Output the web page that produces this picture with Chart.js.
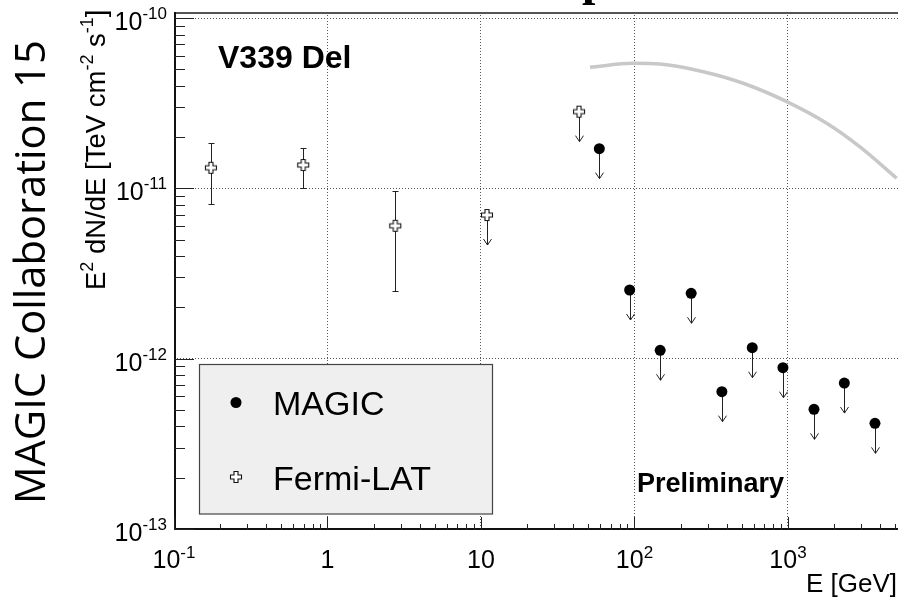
<!DOCTYPE html>
<html>
<head>
<meta charset="utf-8">
<script src="https://cdn.jsdelivr.net/npm/chart.js@4.4.1/dist/chart.umd.min.js"></script>
<style>
html,body{margin:0;padding:0;background:#fff;overflow:hidden}
canvas{display:block}
</style>
</head>
<body>
<canvas id="c" width="898" height="600"></canvas>
<script>
// ---------------- data ----------------
const fermiEnergy   = [0.174, 0.695, 2.765, 10.94, 43.5];          // GeV
const fermiFlux     = [1.32e-11, 1.37e-11, 6.03e-12, 6.97e-12, 2.82e-11];
const fermiErrHigh  = [1.85e-11, 1.73e-11, 9.64e-12, null, null];
const fermiErrLow   = [8.05e-12, 1.00e-11, 2.49e-12, null, null];
const fermiIsUL     = [false, false, false, true, true];

const magicEnergy   = [59, 93, 147, 234, 371, 585, 927, 1477, 2328, 3687];   // GeV
const magicFluxUL   = [1.71e-11, 2.53e-12, 1.12e-12, 2.42e-12, 6.40e-13, 1.16e-12, 8.85e-13, 5.04e-13, 7.19e-13, 4.17e-13];

const modelEnergy   = [51.3, 98.2, 146.6, 280.6, 511, 981, 1787, 2944, 5105];
const modelFlux     = [5.135e-11, 5.42e-11, 5.37e-11, 4.84e-11, 4.14e-11, 3.23e-11, 2.41e-11, 1.75e-11, 1.146e-11];

const xTickValues = [0.1, 1, 10, 100, 1000];
const xTickLabels = [['10','-1'], ['1',''], ['10',''], ['10','2'], ['10','3']];
const yTickValues = [1e-13, 1e-12, 1e-11, 1e-10];
const yTickLabels = [['10','-13'], ['10','-12'], ['10','-11'], ['10','-10']];

const seriesNames = ['MAGIC', 'Fermi-LAT'];
const sourceName  = 'V339 Del';
const stampText   = 'Preliminary';
const sideNote    = 'MAGIC Collaboration 15';
const xTitle      = 'E [GeV]';

// ---------------- styling helpers ----------------
const FONT = '"Liberation Sans", Arial, Helvetica, sans-serif';
const ARROW_LEN = 30;

function makeCross() {
  const c = document.createElement('canvas');
  c.width = 14; c.height = 14;
  const g = c.getContext('2d');
  const cc = 7, h = 5.5, a = 2;
  g.beginPath();
  const pts = [[cc-a,cc-h],[cc+a,cc-h],[cc+a,cc-a],[cc+h,cc-a],[cc+h,cc+a],[cc+a,cc+a],
               [cc+a,cc+h],[cc-a,cc+h],[cc-a,cc+a],[cc-h,cc+a],[cc-h,cc-a],[cc-a,cc-a]];
  pts.forEach((p,i)=> i ? g.lineTo(p[0],p[1]) : g.moveTo(p[0],p[1]));
  g.closePath();
  g.fillStyle = '#fff'; g.fill();
  g.strokeStyle = '#111'; g.lineWidth = 1.1; g.stroke();
  return c;
}
const crossImg = makeCross();

function drawPieces(ctx, pieces, x, y, align) {
  let total = 0;
  pieces.forEach(p => { ctx.font = (p.bold ? 'bold ' : '') + p.size + 'px ' + FONT; p.w = ctx.measureText(p.t).width; total += p.w; });
  let cx = align === 'center' ? x - total / 2 : (align === 'right' ? x - total : x);
  ctx.textAlign = 'left'; ctx.textBaseline = 'alphabetic';
  pieces.forEach(p => {
    ctx.font = (p.bold ? 'bold ' : '') + p.size + 'px ' + FONT;
    ctx.fillText(p.t, cx, y - (p.rise || 0));
    cx += p.w;
  });
  return total;
}

function drawArrow(ctx, px, py) {
  ctx.beginPath();
  ctx.moveTo(px, py); ctx.lineTo(px, py + ARROW_LEN);
  ctx.moveTo(px - 4, py + ARROW_LEN - 6); ctx.lineTo(px, py + ARROW_LEN); ctx.lineTo(px + 4, py + ARROW_LEN - 6);
  ctx.stroke();
}

const rootStyle = {
  id: 'rootStyle',
  beforeDatasetsDraw(chart) {
    const {ctx, scales: {x, y}} = chart;
    ctx.save();
    ctx.strokeStyle = '#222'; ctx.lineWidth = 1;
    fermiEnergy.forEach((e, i) => {
      const px = Math.round(x.getPixelForValue(e)) + 0.5;
      const py = y.getPixelForValue(fermiFlux[i]);
      if (fermiIsUL[i]) { drawArrow(ctx, px, py); return; }
      const yh = Math.round(y.getPixelForValue(fermiErrHigh[i])) + 0.5;
      const yl = Math.round(y.getPixelForValue(fermiErrLow[i])) + 0.5;
      ctx.beginPath();
      ctx.moveTo(px, yh); ctx.lineTo(px, yl);
      ctx.moveTo(px - 3, yh); ctx.lineTo(px + 3, yh);
      ctx.moveTo(px - 3, yl); ctx.lineTo(px + 3, yl);
      ctx.stroke();
    });
    magicEnergy.forEach((e, i) => {
      const px = Math.round(x.getPixelForValue(e)) + 0.5;
      const py = y.getPixelForValue(magicFluxUL[i]);
      drawArrow(ctx, px, py);
    });
    ctx.restore();
  },
  afterDatasetsDraw(chart) {
    const {ctx, chartArea: ca, scales: {x, y}} = chart;
    ctx.save();
    // frame
    ctx.lineWidth = 2;
    ctx.strokeStyle = '#555';
    ctx.beginPath(); ctx.moveTo(ca.left, ca.top + 1); ctx.lineTo(ca.right, ca.top + 1); ctx.stroke();
    ctx.strokeStyle = '#111';
    ctx.beginPath(); ctx.moveTo(ca.left + 1, ca.top); ctx.lineTo(ca.left + 1, ca.bottom); ctx.stroke();
    ctx.beginPath(); ctx.moveTo(ca.left, ca.bottom - 1); ctx.lineTo(ca.right, ca.bottom - 1); ctx.stroke();

    // inner ticks
    ctx.lineWidth = 1; ctx.strokeStyle = '#222';
    for (let d = -13; d <= -10; d++) {
      for (let m = 1; m <= 9; m++) {
        const v = m * Math.pow(10, d);
        if (v > y.max || v < y.min) continue;
        const py = Math.round(y.getPixelForValue(v)) + 0.5;
        const len = m === 1 ? 20 : 11;
        ctx.beginPath(); ctx.moveTo(ca.left, py); ctx.lineTo(ca.left + len, py); ctx.stroke();
      }
    }
    for (let d = -1; d <= 3; d++) {
      for (let m = 1; m <= 9; m++) {
        const v = m * Math.pow(10, d);
        if (v > x.max || v < x.min) continue;
        const px = Math.round(x.getPixelForValue(v)) + 0.5;
        const len = m === 1 ? 13 : 6;
        ctx.beginPath(); ctx.moveTo(px, ca.bottom); ctx.lineTo(px, ca.bottom - len); ctx.stroke();
      }
    }

    // tick labels
    ctx.fillStyle = '#000';
    yTickValues.forEach((v, i) => {
      const py = y.getPixelForValue(v);
      drawPieces(ctx, [{t: yTickLabels[i][0], size: 25}, {t: yTickLabels[i][1], size: 17, rise: 11}], 167, py + 12, 'right');
    });
    xTickValues.forEach((v, i) => {
      const px = x.getPixelForValue(v);
      const parts = [{t: xTickLabels[i][0], size: 25}];
      if (xTickLabels[i][1]) parts.push({t: xTickLabels[i][1], size: 17, rise: 10});
      drawPieces(ctx, parts, px, 568, 'center');
    });

    // axis titles
    drawPieces(ctx, [{t: xTitle, size: 26}], 897, 592, 'right');
    ctx.save();
    ctx.translate(105, 290);
    ctx.rotate(-Math.PI / 2);
    drawPieces(ctx, [
      {t: 'E', size: 27.5}, {t: '2', size: 18, rise: 12}, {t: ' dN/dE [TeV cm', size: 27.5},
      {t: '-2', size: 18, rise: 12}, {t: ' s', size: 27.5}, {t: '-1', size: 18, rise: 12}, {t: ']', size: 27.5}
    ], 0, 0, 'left');
    ctx.restore();

    // side note
    ctx.save();
    ctx.translate(45, 504);
    ctx.rotate(-Math.PI / 2);
    ctx.font = '42px "Open Sans", "Noto Sans", sans-serif';
    const w0 = ctx.measureText(sideNote).width;
    const fs = 42 * 464 / w0;
    ctx.font = fs.toFixed(1) + 'px "Open Sans", "Noto Sans", sans-serif';
    ctx.textAlign = 'left'; ctx.textBaseline = 'alphabetic';
    ctx.fillText(sideNote, 0, 0);
    ctx.restore();

    // legend
    ctx.fillStyle = '#efefef';
    ctx.fillRect(199.5, 364.5, 293, 149.5);
    ctx.strokeStyle = '#444'; ctx.lineWidth = 1.2;
    ctx.strokeRect(199.5, 364.5, 293, 149.5);
    ctx.fillStyle = '#000';
    ctx.beginPath(); ctx.arc(236, 402.5, 5.5, 0, Math.PI * 2); ctx.fill();
    ctx.drawImage(crossImg, 236 - 7, 477 - 7);
    drawPieces(ctx, [{t: seriesNames[0], size: 34}], 273, 415, 'left');
    drawPieces(ctx, [{t: seriesNames[1], size: 34}], 273, 490, 'left');

    // labels in plot
    drawPieces(ctx, [{t: sourceName, size: 32, bold: true}], 218, 68, 'left');
    drawPieces(ctx, [{t: stampText, size: 27, bold: true}], 637, 492, 'left');

    // cut-off glyph of the title above the frame
    ctx.font = 'bold 48px "Liberation Serif", serif';
    ctx.textAlign = 'left';
    ctx.fillText('p', 582, -5);
    ctx.restore();
  }
};

const ctx = document.getElementById('c').getContext('2d');
new Chart(ctx, {
  type: 'scatter',
  data: {
    datasets: [
      {
        label: seriesNames[0],
        data: magicEnergy.map((e, i) => ({x: e, y: magicFluxUL[i]})),
        pointStyle: 'circle', pointRadius: 5.5, pointBorderWidth: 0,
        backgroundColor: '#000', borderColor: '#000', order: 1
      },
      {
        label: seriesNames[1],
        data: fermiEnergy.map((e, i) => ({x: e, y: fermiFlux[i]})),
        pointStyle: crossImg, pointRadius: 6, order: 0
      },
      {
        label: 'model',
        data: modelEnergy.map((e, i) => ({x: e, y: modelFlux[i]})),
        showLine: true, borderColor: '#c8c8c8', borderWidth: 3.5, pointRadius: 0,
        cubicInterpolationMode: 'monotone', fill: false, order: 2
      }
    ]
  },
  options: {
    responsive: false, animation: false, devicePixelRatio: 1,
    layout: {autoPadding: false, padding: {left: 174, top: 12, right: 0, bottom: 70}},
    plugins: {legend: {display: false}, tooltip: {enabled: false}},
    scales: {
      x: {
        type: 'logarithmic', min: 0.1, max: 5208,
        ticks: {display: false},
        grid: {drawTicks: false, color: '#555', lineWidth: 1},
        border: {display: false, dash: [1, 2]},
        afterBuildTicks: s => { s.ticks = xTickValues.map(v => ({value: v})); }
      },
      y: {
        type: 'logarithmic', min: 9.866e-14, max: 1.0845e-10,
        ticks: {display: false},
        grid: {drawTicks: false, color: '#555', lineWidth: 1},
        border: {display: false, dash: [1, 2]},
        afterBuildTicks: s => { s.ticks = yTickValues.map(v => ({value: v})); }
      }
    }
  },
  plugins: [rootStyle]
});
</script>
</body>
</html>
